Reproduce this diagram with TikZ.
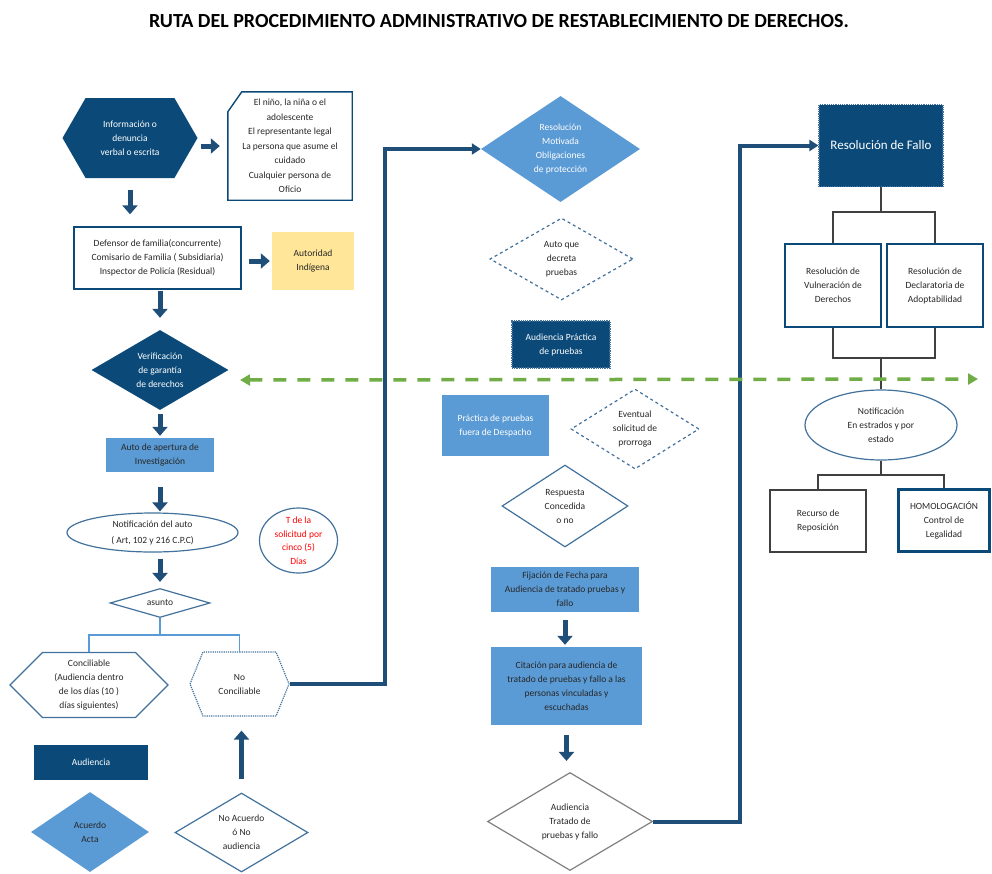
\documentclass[tikz,border=0pt]{standalone}
\usepackage{fontspec}
\setmainfont{Carlito}
\usetikzlibrary{shapes.geometric,shapes.symbols,arrows.meta}

\definecolor{azulosc}{HTML}{0B4A78}
\definecolor{azulmed}{HTML}{5B9BD5}
\definecolor{azulbor}{HTML}{41719C}
\definecolor{flecha}{HTML}{1F4E79}
\definecolor{verde}{HTML}{70AD47}
\definecolor{amarillo}{HTML}{FFE699}
\definecolor{gris}{HTML}{404040}

\begin{document}
\begin{tikzpicture}[x=1pt, y=-1pt,
		every node/.style={font=\fontsize{9.5}{14}\selectfont, align=center, text=black!85, inner sep=1pt},
		caja/.style={rectangle, draw=azulosc, line width=1.4pt, fill=white},
		cajamed/.style={rectangle, fill=azulmed},
		cajaosc/.style={rectangle, fill=azulosc, text=white, draw=azulbor, densely dotted, line width=1.2pt},
		rombo/.style={diamond, inner sep=0pt, aspect=#1},
		hexa/.style={signal, signal to=east and west, signal pointer angle=#1},
		blockarrow/.style={draw=flecha, line width=5pt, -{Triangle[length=9pt, width=15pt]}},
		flowline/.style={draw=flecha, line width=4pt, -{Triangle[length=9pt, width=11pt]}},
		rama/.style={draw=azulmed, line width=1.5pt},
		ramagris/.style={draw=gris, line width=1.5pt}
	]
		\useasboundingbox (0,0) rectangle (992,873);
		
		% Title
		\node[font=\bfseries\fontsize{20}{24}\selectfont, text=black] (titulo) at (499,21) {RUTA DEL PROCEDIMIENTO ADMINISTRATIVO DE RESTABLECIMIENTO DE DERECHOS.};
		
		% Left column
		\node[hexa=120, fill=azulosc, text=white, minimum width=135pt, minimum height=80pt] (info) at (130,138) {Información o\\denuncia\\verbal o escrita};
		\node[rectangle, minimum width=124pt, minimum height=108pt, font=\fontsize{9.5}{14.5}\selectfont] (quien) at (290,146) {El niño, la niña o el\\adolescente\\El representante legal\\La persona que asume el\\cuidado\\Cualquier persona de\\Oficio};
		\draw[azulosc, line width=1.4pt] ([yshift=-20pt]quien.north west) -- ([xshift=14pt]quien.north west) -- (quien.north east) -- (quien.south east) -- (quien.south west) -- cycle;
		\node[caja, minimum width=167pt, minimum height=62pt] (autoridad) at (157.5,258) {Defensor de familia(concurrente)\\Comisario de Familia ( Subsidiaria)\\Inspector de Policía (Residual)};
		\node[rectangle, fill=amarillo, minimum width=82pt, minimum height=58pt] (indigena) at (313,261) {Autoridad\\Indígena};
		\node[rombo=1.7, fill=azulosc, text=white, minimum width=137pt, minimum height=80pt] (verif) at (160,370) {Verificación\\de garantía\\de derechos};
		\node[cajamed, minimum width=108pt, minimum height=34pt] (apertura) at (160,455) {Auto de apertura de\\Investigación};
		\node[ellipse, draw=azulbor, line width=1.2pt, minimum width=171pt, minimum height=39pt, inner sep=0pt, font=\fontsize{9.5}{16}\selectfont] (notiauto) at (152.5,532.5) {Notificación del auto\\( Art, 102 y 216 C.P.C)};
		\node[ellipse, draw=azulbor, line width=1.2pt, text=red, inner sep=-3pt, minimum width=78pt, minimum height=65pt, font=\fontsize{9.5}{13.5}\selectfont] (termino) at (298.5,540.5) {T de la\\solicitud por\\cinco (5)\\Días};
		\node[rombo=3.4, draw=azulbor, line width=1.2pt, minimum width=100pt, minimum height=29pt] (asunto) at (160,603) {asunto};
		\node[hexa=90, draw=azulbor, line width=1.2pt, minimum width=158pt, minimum height=65pt] (concil) at (89,685) {Conciliable\\(Audiencia dentro\\de los días (10 )\\días siguientes)};
		\node[hexa=136, draw=azulbor, densely dotted, line width=1.2pt, minimum width=99pt, minimum height=64pt] (nocon) at (239.5,684) {No\\Conciliable};
		\node[rectangle, fill=azulosc, text=white, minimum width=114pt, minimum height=35pt] (audiencia) at (91,762.5) {Audiencia};
		\node[rombo=1.5, fill=azulmed, minimum width=118pt, minimum height=80pt] (acuerdo) at (90,832) {Acuerdo\\Acta};
		\node[rombo=1.7, draw=azulbor, line width=1.2pt, minimum width=133pt, minimum height=79pt] (noacuerdo) at (241.5,832.5) {No Acuerdo\\ó No\\audiencia};
		
		% Middle column
		\node[rombo=1.5, fill=azulmed, text=white, minimum width=159pt, minimum height=106pt] (resmot) at (560.5,149) {Resolución\\Motivada\\Obligaciones\\de protección};
		\node[rombo=1.75, draw=azulbor, dashed, line width=1.2pt, minimum width=143pt, minimum height=82pt] (decreta) at (561.5,259) {Auto que\\decreta\\pruebas};
		\node[cajaosc, minimum width=98pt, minimum height=47pt] (practica) at (561,344.5) {Audiencia Práctica\\de pruebas};
		\node[cajamed, text=white, minimum width=107pt, minimum height=61pt] (fuera) at (495.5,425.5) {Práctica de pruebas\\fuera de Despacho};
		\node[rombo=1.6, draw=azulbor, dashed, line width=1.2pt, minimum width=128pt, minimum height=80pt] (prorroga) at (635,429) {Eventual\\solicitud de\\prorroga};
		\node[rombo=1.55, draw=azulbor, line width=1.2pt, minimum width=126pt, minimum height=82pt] (respuesta) at (565,506) {Respuesta\\Concedida\\o no};
		\node[cajamed, minimum width=148pt, minimum height=45pt] (fijacion) at (565,589.5) {Fijación de Fecha para\\Audiencia de tratado pruebas y\\fallo};
		\node[cajamed, minimum width=151pt, minimum height=78pt] (citacion) at (566.5,686) {Citación para audiencia de\\tratado de pruebas y fallo a las\\personas vinculadas y\\escuchadas};
		\node[rombo=1.7, draw=gray, line width=1.2pt, minimum width=165pt, minimum height=98pt] (audfallo) at (570,821.5) {Audiencia\\Tratado de\\pruebas y fallo};
		
		% Right column
		\node[cajaosc, font=\fontsize{13}{16}\selectfont, minimum width=124pt, minimum height=82pt] (fallo) at (881,145.5) {Resolución de Fallo};
		\node[caja, minimum width=96pt, minimum height=83pt] (vulnera) at (833,285.5) {Resolución de\\Vulneración de\\Derechos};
		\node[caja, minimum width=96pt, minimum height=83pt] (adopta) at (935,285.5) {Resolución de\\Declaratoria de\\Adoptabilidad};
		\node[ellipse, draw=azulbor, line width=1.2pt, minimum width=152pt, minimum height=70pt] (notifica) at (881,425) {Notificación\\En estrados y por\\estado};
		\node[rectangle, draw=gris, line width=1.5pt, minimum width=96pt, minimum height=62pt] (reposicion) at (818,521) {Recurso de\\Reposición};
		\node[rectangle, draw=azulosc, line width=3pt, minimum width=91pt, minimum height=62pt] (homologa) at (944,520) {HOMOLOGACIÓN\\Control de\\Legalidad};
		
		% Block arrows
		\draw[blockarrow, shorten <=3pt, shorten >=8pt] (info.east |- quien.west) -- (quien.west);
		\draw[blockarrow, shorten <=12pt, shorten >=12pt] (info.south) -- (info.south |- autoridad.north);
		\draw[blockarrow, shorten <=7pt, shorten >=2pt] (autoridad.east |- indigena.west) -- (indigena.west);
		\draw[blockarrow, shorten <=1pt, shorten >=12pt] (verif.north |- autoridad.south) -- (verif.north);
		\draw[blockarrow, shorten <=4pt, shorten >=2pt] (verif.south) -- (apertura.north);
		\draw[blockarrow, shorten <=15pt, shorten >=1pt] (apertura.south) -- (apertura.south |- notiauto.north);
		\draw[blockarrow, shorten <=6pt, shorten >=6pt] (asunto.north |- notiauto.south) -- (asunto.north);
		\draw[blockarrow, shorten <=13pt, shorten >=14pt] (noacuerdo.north) -- (noacuerdo.north |- nocon.south);
		\draw[blockarrow, shorten <=8pt, shorten >=2pt] (fijacion.south) -- (fijacion.south |- citacion.north);
		\draw[blockarrow, shorten <=10pt, shorten >=11pt] (citacion.south) -- (citacion.south |- audfallo.north);
		
		% Branches
		\coordinate (ramaA) at (160,635);
		\draw[rama] (asunto.south) -- (ramaA);
		\draw[rama] (concil.north) |- (ramaA) -| (nocon.north);
		\coordinate (ramaB) at (881,212);
		\draw[ramagris] (fallo.south) -- (ramaB);
		\draw[ramagris] (vulnera.north) |- (ramaB) -| (adopta.north);
		\coordinate (ramaC) at (881,358);
		\draw[ramagris] (vulnera.south) |- (ramaC) -| (adopta.south);
		\draw[ramagris] (ramaC) -- (notifica.north);
		\coordinate (ramaD) at (881,475);
		\draw[ramagris] (notifica.south) -- (ramaD);
		\draw[ramagris] (reposicion.north) |- (ramaD) -| (homologa.north);
		
		% Long connectors
		\coordinate (subeA) at (385,400);
		\draw[flowline] (nocon.east) -| (subeA) |- (resmot.west);
		\coordinate (subeB) at (740,500);
		\draw[flowline] (audfallo.east) -| (subeB) |- (fallo.west);
		
		% Green dashed line
		\coordinate (verdeIzq) at (240,380);
		\coordinate (verdeDer) at (978,379);
		\draw[verde, line width=3.5pt, dash pattern=on 13pt off 11pt, {Triangle[length=10pt, width=11pt]}-{Triangle[length=10pt, width=11pt]}] (verdeIzq) -- (verdeDer);
	\end{tikzpicture}
\end{document}
